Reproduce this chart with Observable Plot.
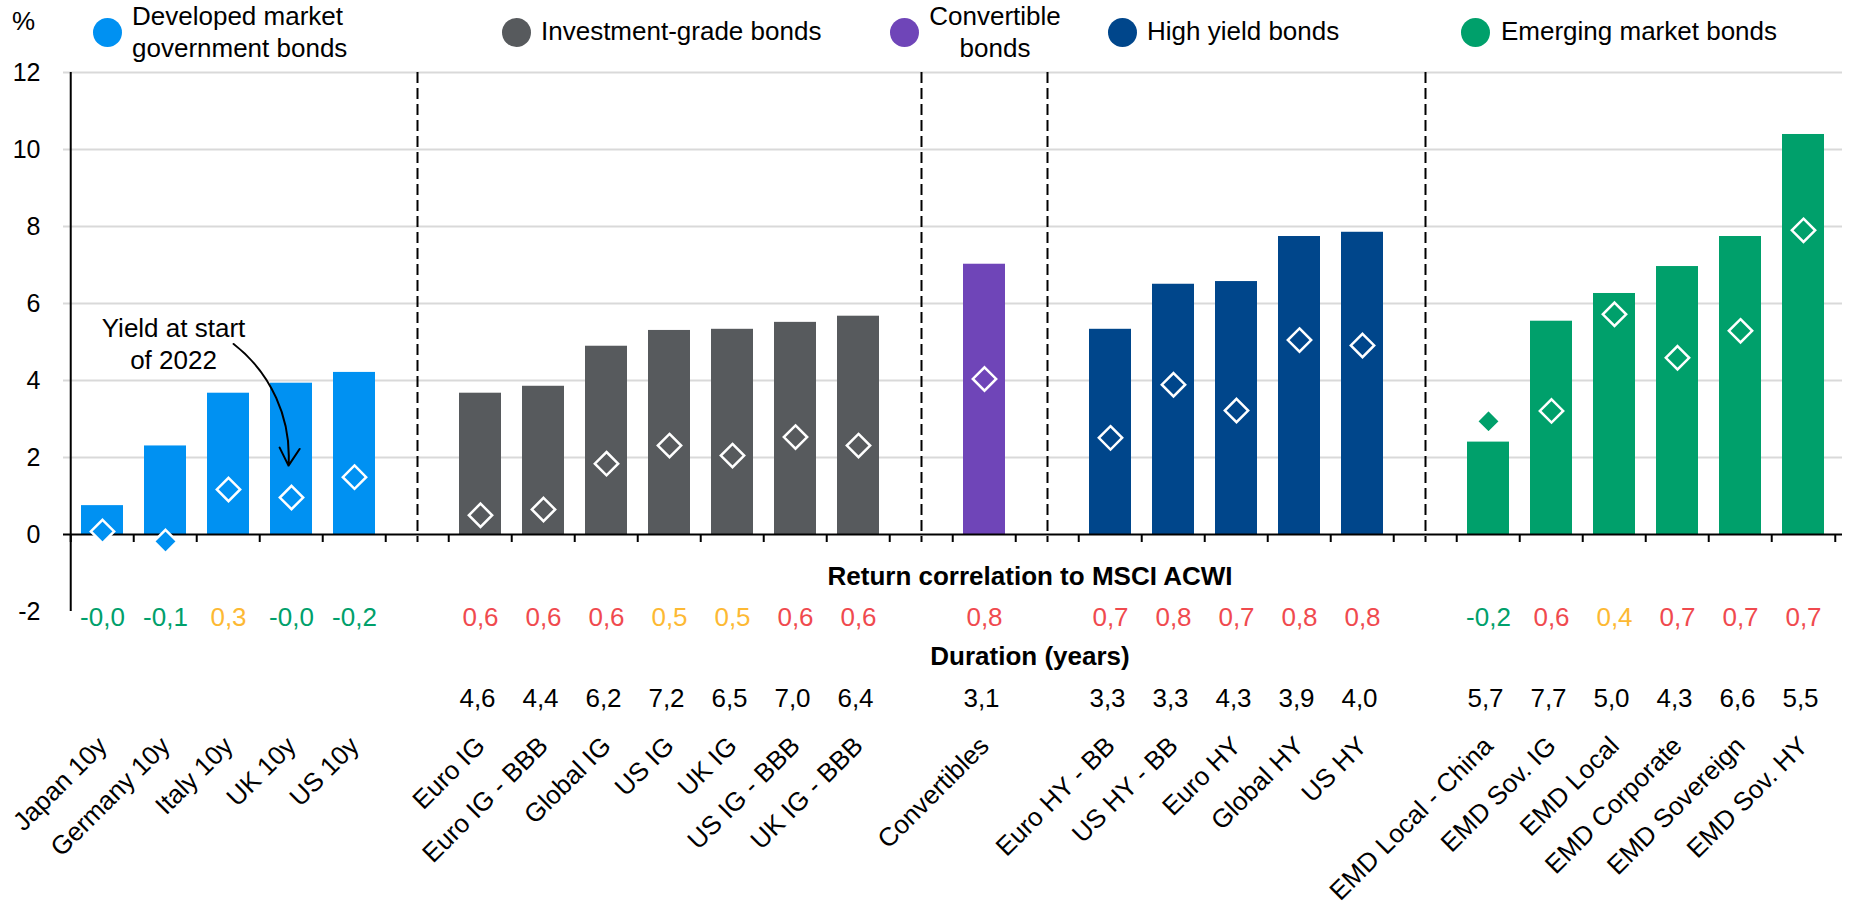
<!DOCTYPE html>
<html>
<head>
<meta charset="utf-8">
<script src="https://cdn.jsdelivr.net/npm/d3@7"></script>
<script src="https://cdn.jsdelivr.net/npm/@observablehq/plot@0.6"></script>
<style>
  body { margin: 0; background: #fff; font-family: "Liberation Sans", Arial, sans-serif; }
  #wrap { width: 1856px; }
  #legend { position: relative; height: 62px; font-size: 26px; color: #000; }
  #legend .sw { position: absolute; width: 29px; height: 29px; border-radius: 50%; }
  #legend .lb { position: absolute; line-height: 31.6px; white-space: pre; }
</style>
</head>
<body>
<div id="wrap">
  <div id="legend"></div>
  <div id="chart"></div>
</div>
<script>
// ---------------- data ----------------
const groupLabels = ["Developed market\ngovernment bonds", "Investment-grade bonds", "Convertible\nbonds", "High yield bonds", "Emerging market bonds"];
const groupColors = ["#0091F2", "#575A5D", "#6F45B8", "#00468B", "#00A06B"];

const names = [
  "Japan 10y", "Germany 10y", "Italy 10y", "UK 10y", "US 10y",
  "Euro IG", "Euro IG - BBB", "Global IG", "US IG", "UK IG", "US IG - BBB", "UK IG - BBB",
  "Convertibles",
  "Euro HY - BB", "US HY - BB", "Euro HY", "Global HY", "US HY",
  "EMD Local - China", "EMD Sov. IG", "EMD Local", "EMD Corporate", "EMD Sovereign", "EMD Sov. HY"
];
const groupIdx = [0,0,0,0,0, 1,1,1,1,1,1,1, 2, 3,3,3,3,3, 4,4,4,4,4,4];

// current yield (%)
const yields = [0.75, 2.30, 3.67, 3.93, 4.21,
  3.67, 3.85, 4.89, 5.30, 5.33, 5.51, 5.67,
  7.02,
  5.33, 6.50, 6.57, 7.74, 7.85,
  2.40, 5.54, 6.26, 6.96, 7.74, 10.39];
// yield at start of 2022 (%)
const startYields = [0.08, -0.18, 1.17, 0.96, 1.49,
  0.50, 0.65, 1.84, 2.31, 2.05, 2.53, 2.31,
  4.04,
  2.51, 3.89, 3.22, 5.05, 4.91,
  2.94, 3.21, 5.72, 4.59, 5.29, 7.90];
// return correlation to MSCI ACWI
const correlations = [-0.0, -0.1, 0.3, -0.0, -0.2,
  0.6, 0.6, 0.6, 0.5, 0.5, 0.6, 0.6,
  0.8,
  0.7, 0.8, 0.7, 0.8, 0.8,
  -0.2, 0.6, 0.4, 0.7, 0.7, 0.7];
// duration (years)
const durations = [null, null, null, null, null,
  4.6, 4.4, 6.2, 7.2, 6.5, 7.0, 6.4,
  3.1,
  3.3, 3.3, 4.3, 3.9, 4.0,
  5.7, 7.7, 5.0, 4.3, 6.6, 5.5];

const yTicks = [-2, 0, 2, 4, 6, 8, 10, 12];
const corrHeading = "Return correlation to MSCI ACWI";
const durationHeading = "Duration (years)";
const annotation = {text: "Yield at start\nof 2022", textAt: "Germany 10y", textY: 4.97,
  from: "Italy 10y", fromY: 5.1, to: "UK 10y", toY: 1.79};

const corrColors = {low: "#00A06B", mid: "#FDB933", high: "#F04A4E"};

// ---------------- build ----------------
const FONT = '"Liberation Sans", Arial, sans-serif';
const rows = names.map((n, i) => ({
  name: n, group: groupIdx[i], color: groupColors[groupIdx[i]],
  yield: yields[i], start: startYields[i], corr: correlations[i], dur: durations[i]
}));
const xDomain = [];
rows.forEach((r, i) => {
  if (i > 0 && r.group !== rows[i - 1].group) xDomain.push("gap" + r.group);
  xDomain.push(r.name);
});
const gaps = xDomain.filter(d => d.startsWith("gap"));

const W = 1856, H = 844, ML = 63, MR = 14, MT = 10, MB = 295;
const step = (W - ML - MR) / xDomain.length;
const yMin = d3.min(yTicks), yMax = d3.max(yTicks);

const fmt = v => ((v < 0 || Object.is(v, -0)) ? "-" : "") + Math.abs(v).toFixed(1).replace(".", ",");
const corrColor = v => v >= 0.6 ? corrColors.high : (v > 0 ? corrColors.mid : corrColors.low);

// legend (HTML above the SVG)
const legendLayout = [
  {cx: 107, textLeft: 132, align: "left"},
  {cx: 516, textLeft: 541, align: "left"},
  {cx: 904, textLeft: 925, align: "center", width: 140},
  {cx: 1122, textLeft: 1147, align: "left"},
  {cx: 1475, textLeft: 1501, align: "left"}
];
const legend = document.getElementById("legend");
const pct = document.createElement("div");
pct.className = "lb"; pct.textContent = "%";
pct.style.left = "12px"; pct.style.top = "6px";
legend.appendChild(pct);
groupLabels.forEach((lab, i) => {
  const L = legendLayout[i];
  const sw = document.createElement("span");
  sw.className = "sw"; sw.style.background = groupColors[i];
  sw.style.left = (L.cx - 14.5) + "px"; sw.style.top = (32 - 14.5) + "px";
  legend.appendChild(sw);
  const t = document.createElement("div");
  t.className = "lb"; t.textContent = lab;
  const lines = lab.split("\n").length;
  t.style.left = L.textLeft + "px";
  t.style.top = (lines === 2 ? 1 : 16.2) + "px";
  t.style.textAlign = L.align;
  if (L.width) t.style.width = L.width + "px";
  legend.appendChild(t);
});

const chart = Plot.plot({
  width: W, height: H,
  marginLeft: ML, marginRight: MR, marginTop: MT, marginBottom: MB,
  style: {fontFamily: FONT, fontSize: "26px", color: "#000", background: "#fff", overflow: "visible"},
  x: {domain: xDomain, paddingInner: 0.34, paddingOuter: 0.17, align: 0.5, axis: null},
  y: {domain: [yMin, yMax]},
  marks: [
    Plot.ruleY(yTicks.filter(t => t > 0), {stroke: "#D9D9D9", strokeWidth: 2}),
    Plot.barY(rows, {x: "name", y: "yield", fill: "color"}),
    Plot.ruleY([0], {stroke: "#000", strokeWidth: 2}),
    Plot.ruleX(xDomain, {x: d => d, y1: 0, y2: 0, insetBottom: -8, dx: -step / 2, stroke: "#000", strokeWidth: 2}),
    Plot.ruleX([xDomain[xDomain.length - 1]], {x: d => d, y1: 0, y2: 0, insetBottom: -8, dx: step / 2, stroke: "#000", strokeWidth: 2}),
    Plot.ruleX([xDomain[0]], {x: d => d, y1: yMin, y2: yMax, dx: -step / 2, stroke: "#000", strokeWidth: 2}),
    Plot.ruleX(gaps, {x: d => d, y1: yMax, y2: 0, insetBottom: -8, stroke: "#000", strokeWidth: 2, strokeDasharray: "11,5"}),
    Plot.axisY({ticks: yTicks, tickSize: 0, tickPadding: 23, fontSize: 25, tickFormat: d => String(d), label: null}),
    Plot.dot(rows, {x: "name", y: "start", symbol: "diamond2", r: 10.5, fill: "color", stroke: "#fff", strokeWidth: 2.5}),
    // annotation
    Plot.text([annotation], {x: d => d.textAt, y: d => d.textY, text: d => d.text, dx: 8, lineHeight: 1.21, fill: "#000"}),
    Plot.arrow([annotation], {x1: d => d.from, y1: d => d.fromY, x2: d => d.to, y2: d => d.toY,
      dx: -3, bend: 30, insetStart: 10, stroke: "#000", strokeWidth: 2, headLength: 15, headAngle: 60}),
    // table rows under the chart
    Plot.text([corrHeading], {text: d => d, frameAnchor: "bottom", dx: 77, dy: -27, fontWeight: "bold", fill: "#000"}),
    Plot.text(rows, {x: "name", text: d => fmt(d.corr), fill: d => corrColor(d.corr), frameAnchor: "bottom", dy: 14}),
    Plot.text([durationHeading], {text: d => d, frameAnchor: "bottom", dx: 77, dy: 53, fontWeight: "bold", fill: "#000"}),
    Plot.text(rows.filter(d => d.dur != null), {x: "name", text: d => fmt(d.dur), frameAnchor: "bottom", dx: -3, dy: 95, fill: "#000"}),
    // rotated category labels
    Plot.text(rows, {x: "name", text: "name", frameAnchor: "bottom", rotate: -45, textAnchor: "end", dx: 6, dy: 136, fill: "#000"})
  ]
});
document.getElementById("chart").appendChild(chart);
</script>
</body>
</html>
